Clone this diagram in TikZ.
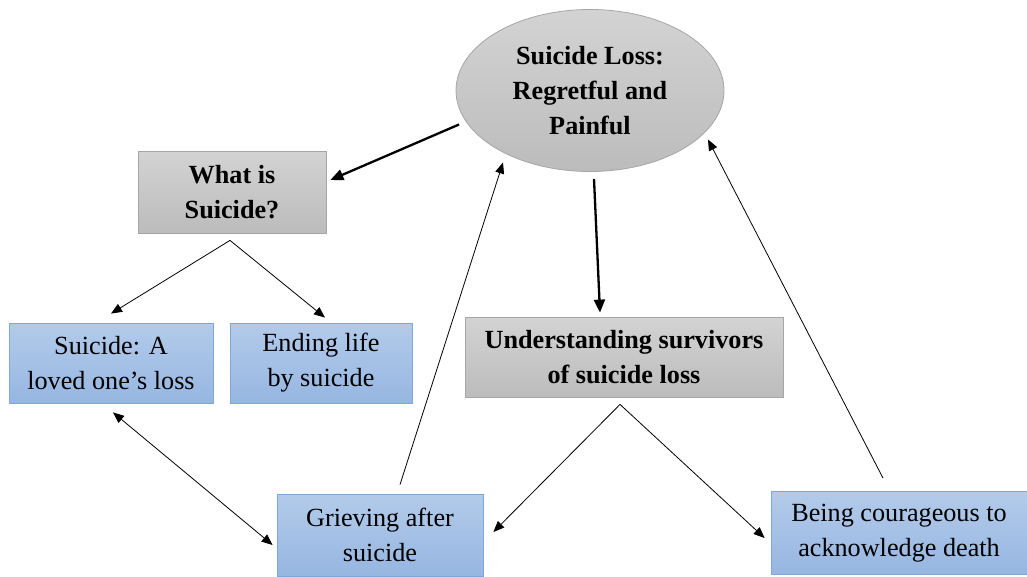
\documentclass[tikz,border=0pt]{standalone}
\usepackage{fontspec}
\setmainfont{Liberation Serif}
\usetikzlibrary{arrows.meta,calc,shapes.geometric}
\definecolor{grayTop}{HTML}{D3D3D3}
\definecolor{grayBot}{HTML}{BCBCBC}
\definecolor{grayLine}{HTML}{A6A6A6}
\definecolor{blueTop}{HTML}{B3CBEA}
\definecolor{blueBot}{HTML}{96B6E1}
\definecolor{blueLine}{HTML}{7FA8D8}
\tikzset{
  txt/.style={font=\fontsize{26.2}{35}\selectfont, align=center, inner sep=0pt},
  graybox/.style={txt, font=\fontsize{26.2}{35}\selectfont\bfseries, rectangle, draw=grayLine, line width=0.8pt, top color=grayTop, bottom color=grayBot},
  bluebox/.style={txt, rectangle, draw=blueLine, line width=0.8pt, top color=blueTop, bottom color=blueBot},
  grayell/.style={txt, font=\fontsize{26.2}{35}\selectfont\bfseries, ellipse, draw=grayLine, line width=0.8pt, top color=grayTop, bottom color=grayBot},
  thickarrow/.style={line width=2.3pt, -{Triangle[length=13pt,width=11pt]}},
  thinarrow/.style={line width=0.8pt, -{Triangle[length=11pt,width=9pt]}},
  thinboth/.style={line width=0.8pt, {Triangle[length=11pt,width=9pt]}-{Triangle[length=11pt,width=9pt]}},
}
\begin{document}
\begin{tikzpicture}[x=1pt,y=-1pt]
\useasboundingbox (0,0) rectangle (1027,576);
\node[grayell, minimum width=268pt, minimum height=162pt] (ell) at (590,90.5) {Suicide Loss:\\Regretful and\\Painful};
\node[graybox, minimum width=188pt, minimum height=82pt] (what) at (232,192) {What is\\Suicide?};
\node[bluebox, minimum width=204pt, minimum height=80pt] (sa) at (111,363) {Suicide: A\\loved one’s loss};
\node[bluebox, minimum width=182pt, minimum height=80pt] (el) at (321,363) {Ending life\\by suicide};
\node[graybox, minimum width=318pt, minimum height=80pt] (und) at (624,357) {Understanding survivors\\of suicide loss};
\node[bluebox, minimum width=206pt, minimum height=82pt] (gr) at (380,535) {Grieving after\\suicide};
\node[bluebox, minimum width=256pt, minimum height=83pt] (bc) at (899,533) {Being courageous to\\acknowledge death};

\draw[thickarrow] ($(ell.center)+(-131,34)$) -- ($(what.east)+(4,-12)$);
\draw[thickarrow] ($(ell.south)+(4,7)$) -- ($(und.north)+(-24,-4)$);
\draw[thinarrow] ($(what.south)+(-2,7)$) -- ($(sa.north)+(0,-9)$);
\draw[thinarrow] ($(what.south)+(-2,7)$) -- ($(el.north)+(4,-5)$);
\draw[thinarrow] ($(und.south)+(-4,7)$) -- ($(gr.east)+(10,-3)$);
\draw[thinarrow] ($(und.south)+(-4,7)$) -- ($(bc.west)+(-6,5)$);
\draw[thinboth] ($(sa.south)+(2,9)$) -- ($(gr.west)+(-4,10)$);
\draw[thinarrow] ($(gr.north)+(20,-9)$) -- ($(ell.center)+(-87,72)$);
\draw[thinarrow] ($(bc.north)+(-16,-13)$) -- ($(ell.center)+(118,49)$);
\end{tikzpicture}
\end{document}
